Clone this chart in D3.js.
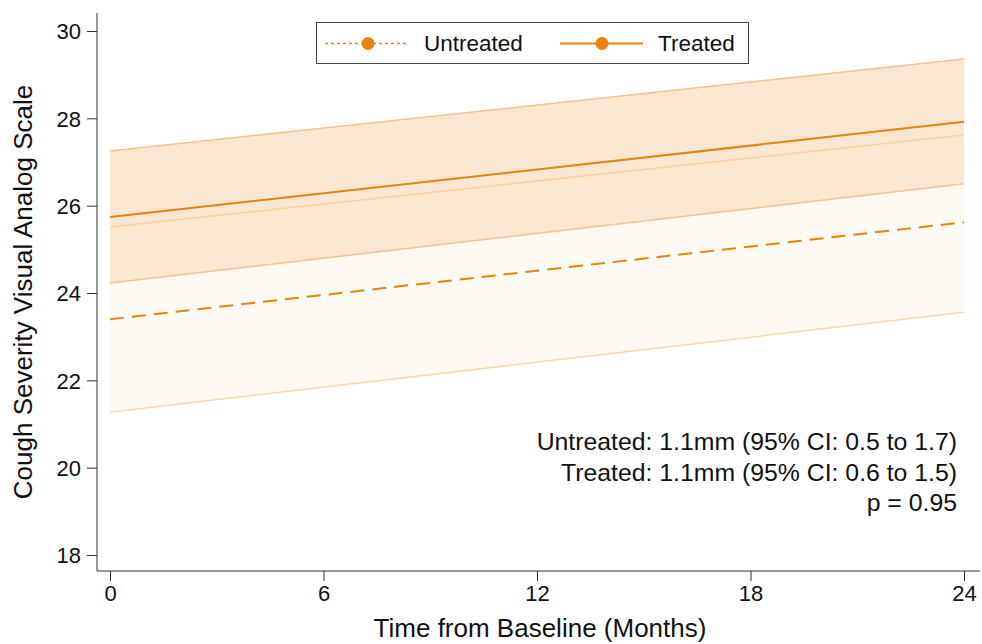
<!DOCTYPE html>
<html><head><meta charset="utf-8">
<script src="https://cdn.jsdelivr.net/npm/d3@7"></script>
<style>body{margin:0;background:#fff}svg{display:block}</style>
</head><body>
<script>
// Data
const months = [0, 24];
const treatedFit = [25.74, 27.92];
const treatedLo = [24.23, 26.50];
const treatedHi = [27.25, 29.36];
const untreatedFit = [23.40, 25.62];
const untreatedLo = [21.27, 23.56];
const untreatedHi = [25.51, 27.62];
const xTicks = [0, 6, 12, 18, 24];
const yTicks = [18, 20, 22, 24, 26, 28, 30];
const legendLabels = ["Untreated", "Treated"];
const annotations = ["Untreated: 1.1mm (95% CI: 0.5 to 1.7)", "Treated: 1.1mm (95% CI: 0.6 to 1.5)", "p = 0.95"];

const W = 982, H = 644;
const FONT = "Liberation Sans, Arial, sans-serif";
const svg = d3.select("body").append("svg").attr("width", W).attr("height", H);
const x = d3.scaleLinear().domain([0, 24]).range([110, 964]);
const y = d3.scaleLinear().domain([18, 30]).range([555, 31]);
const orange = "#E8820C";

const pts = (a) => months.map((m, i) => [m, a[i]]);
const band = (lo, hi) => months.map((m, i) => ({m, lo: lo[i], hi: hi[i]}));
const area = d3.area().x(d => x(d.m)).y0(d => y(d.lo)).y1(d => y(d.hi));
const line = d3.line().x(d => x(d[0])).y(d => y(d[1]));

// bands
svg.append("path").attr("d", area(band(untreatedLo, untreatedHi))).attr("fill", "#FEF9F3");
svg.append("path").attr("d", area(band(treatedLo, treatedHi))).attr("fill", "#F9E7D2");
// CI edges
[[untreatedLo, "#F7D9AE"], [untreatedHi, "#F5CFA0"], [treatedLo, "#F0C28F"], [treatedHi, "#F0C28F"]].forEach(([a, c]) => {
  svg.append("path").attr("d", line(pts(a))).attr("fill", "none").attr("stroke", c).attr("stroke-width", 1.5);
});
// fits
svg.append("path").attr("d", line(pts(untreatedFit))).attr("fill", "none").attr("stroke", orange)
  .attr("stroke-width", 2).attr("stroke-dasharray", "14,8");
svg.append("path").attr("d", line(pts(treatedFit))).attr("fill", "none").attr("stroke", orange).attr("stroke-width", 2);

// axes
const yAxis = svg.append("g").attr("transform", "translate(97,0)")
  .call(d3.axisLeft(y).tickValues(yTicks).tickSize(10).tickPadding(6));
yAxis.select(".domain").attr("d", "M0,13V571").attr("stroke", "#333");
yAxis.selectAll(".tick line").attr("stroke", "#333");
yAxis.selectAll("text").attr("font-family", FONT).attr("font-size", 22).attr("fill", "#111").attr("dy", "0.36em");

const xAxis = svg.append("g").attr("transform", "translate(0,571)")
  .call(d3.axisBottom(x).tickValues(xTicks).tickSize(10).tickPadding(4));
xAxis.select(".domain").attr("d", "M97,0H980").attr("stroke", "#333");
xAxis.selectAll(".tick line").attr("stroke", "#333");
xAxis.selectAll("text").attr("font-family", FONT).attr("font-size", 22).attr("fill", "#111");

svg.append("text").attr("x", 540).attr("y", 637).attr("text-anchor", "middle")
  .attr("font-family", FONT).attr("font-size", 26).attr("fill", "#111")
  .text("Time from Baseline (Months)");
svg.append("text").attr("transform", "translate(32,292) rotate(-90)").attr("text-anchor", "middle")
  .attr("font-family", FONT).attr("font-size", 26).attr("fill", "#111")
  .text("Cough Severity Visual Analog Scale");

// legend
const lg = svg.append("g");
lg.append("rect").attr("x", 316.5).attr("y", 22.5).attr("width", 432).attr("height", 41)
  .attr("fill", "#fff").attr("stroke", "#444").attr("stroke-width", 1);
const lx = [[325, 368, 407, 424], [560, 602, 643, 658]];
legendLabels.forEach((t, i) => {
  const [a, c, b, tx] = lx[i];
  lg.append("line").attr("x1", a).attr("x2", b).attr("y1", 43.5).attr("y2", 43.5).attr("stroke", orange)
    .attr("stroke-width", i === 0 ? 1.5 : 2).attr("stroke-dasharray", i === 0 ? "3,3" : null);
  lg.append("circle").attr("cx", c).attr("cy", 43.5).attr("r", 6.5).attr("fill", orange);
  lg.append("text").attr("x", tx).attr("y", 51).attr("font-family", FONT)
    .attr("font-size", 22.5).attr("fill", "#111").text(t);
});

// annotations
annotations.forEach((t, i) => {
  svg.append("text").attr("x", 957).attr("y", 450 + i * 30.5).attr("text-anchor", "end")
    .attr("font-family", FONT).attr("font-size", 24.8).attr("fill", "#111").text(t);
});
</script>
</body></html>
